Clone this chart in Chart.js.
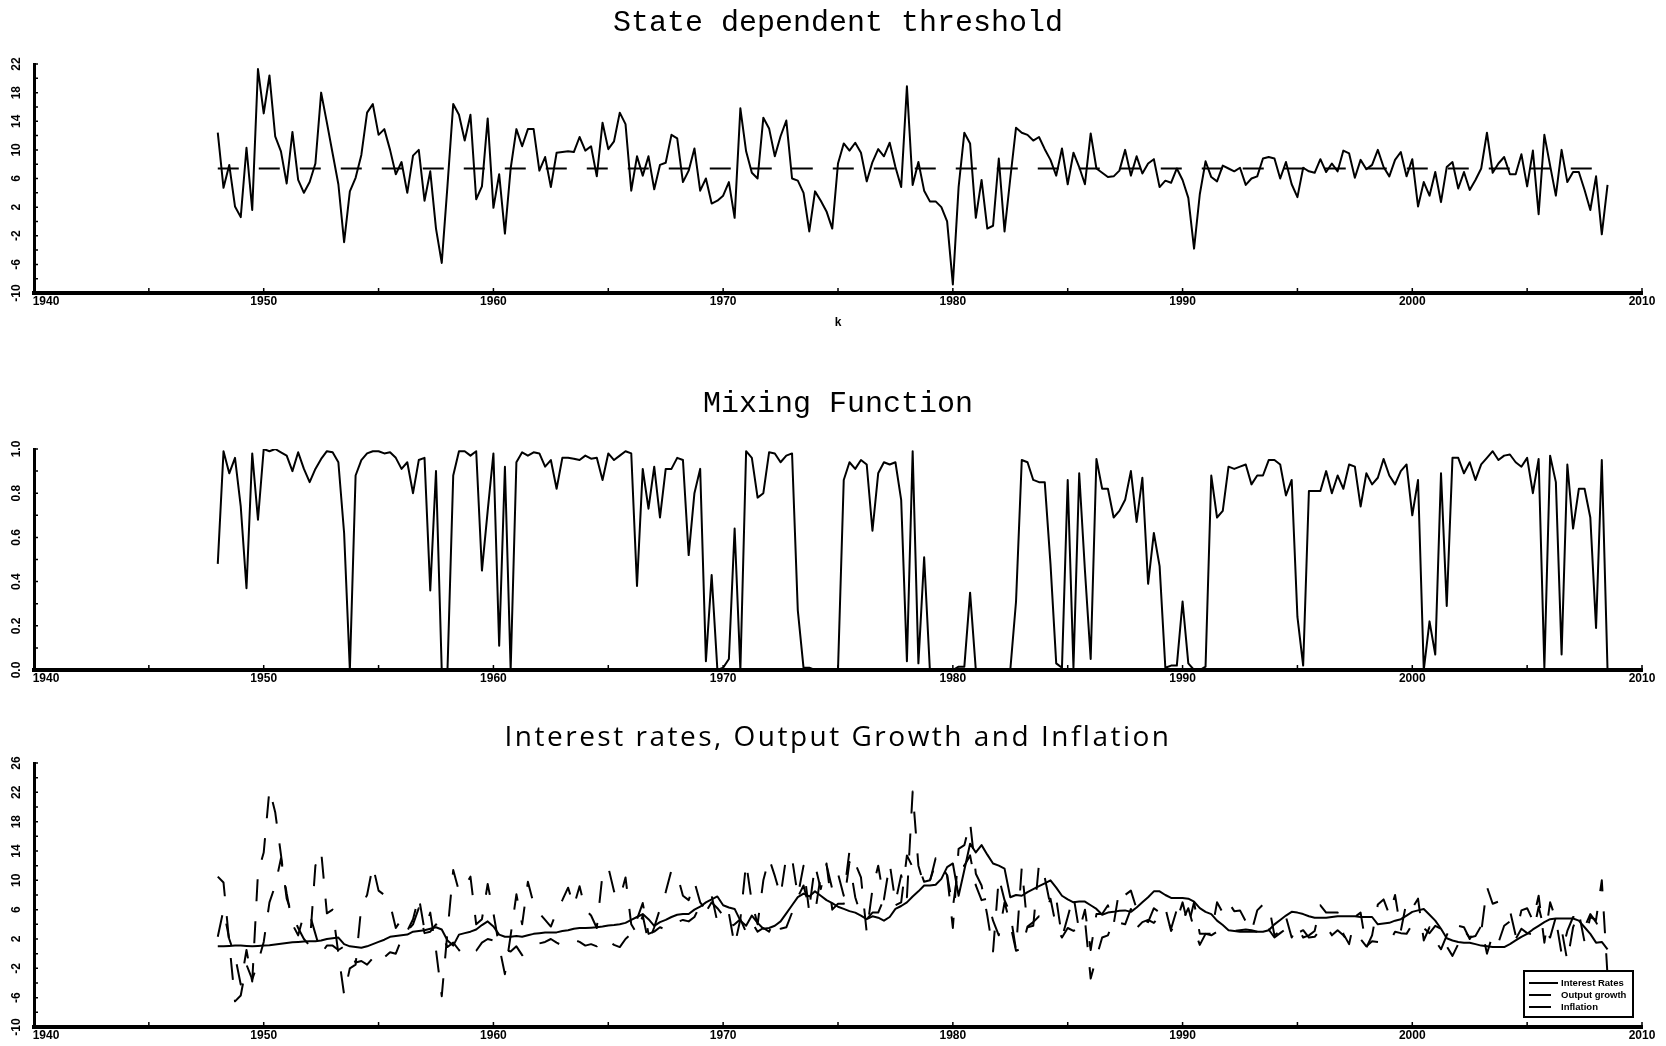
<!DOCTYPE html>
<html>
<head>
<meta charset="utf-8">
<title>State dependent threshold</title>
<style>
  body { margin: 0; background: #fff; }
  canvas { position: absolute; left: 0; }
</style>
</head>
<body>
<canvas id="thresholdChart" width="1666" height="340" style="top:0px"></canvas>
<canvas id="mixingChart" width="1666" height="350" style="top:340px"></canvas>
<canvas id="ratesChart" width="1666" height="356" style="top:690px"></canvas>
<script src="https://cdn.jsdelivr.net/npm/chart.js"></script>
<script>
// quarterly data, first quarter 1948Q1
const firstYear = 1948;
const yearTicks = [1940, 1950, 1960, 1970, 1980, 1990, 2000, 2010];
const thresholdTicks = [-10, -6, -2, 2, 6, 10, 14, 18, 22];
const mixingTicks = [0, 0.2, 0.4, 0.6, 0.8, 1.0];
const ratesTicks = [-10, -6, -2, 2, 6, 10, 14, 18, 22, 26];
const thresholdLevel = 7.4;

const threshold = [
  12.4, 4.7, 7.9, 2.1, 0.6, 10.3, 1.6, 21.3, 15.1, 20.4,
  11.9, 9.8, 5.3, 12.5, 5.8, 4.0, 5.5, 8.1, 18.0, 13.8,
  9.5, 5.2, -2.9, 4.2, 6.1, 9.3, 15.2, 16.4, 12.1, 12.9,
  10.0, 6.6, 8.3, 4.0, 9.2, 10.0, 2.9, 7.0, -1.0, -5.8,
  5.0, 16.4, 14.9, 11.3, 14.9, 3.1, 4.9, 14.4, 1.9, 6.6,
  -1.7, 7.4, 12.9, 10.5, 12.9, 12.9, 7.1, 9.0, 4.8, 9.6,
  9.7, 9.8, 9.7, 11.8, 9.9, 10.5, 6.3, 13.8, 10.1, 11.2,
  15.2, 13.6, 4.3, 9.1, 6.4, 9.1, 4.5, 7.9, 8.2, 12.1,
  11.6, 5.5, 7.1, 10.2, 4.3, 6.0, 2.5, 2.9, 3.6, 5.5,
  0.5, 15.8, 9.8, 6.8, 6.0, 14.5, 13.0, 9.1, 11.9, 14.1,
  6.0, 5.7, 4.0, -1.4, 4.2, 2.9, 1.4, -1.0, 8.1, 10.9,
  9.9, 11.0, 9.6, 5.6, 8.3, 10.1, 9.1, 11.0, 7.6, 4.8,
  18.9, 5.1, 8.3, 4.3, 2.8, 2.8, 2.0, 0.0, -8.8, 4.8,
  12.4, 10.9, 0.5, 5.8, -1.0, -0.6, 8.8, -1.4, 6.0, 13.1,
  12.4, 12.1, 11.3, 11.8, 10.1, 8.6, 6.4, 10.2, 5.2, 9.6,
  7.6, 5.2, 12.3, 7.4, 6.8, 6.2, 6.3, 7.1, 10.0, 6.4,
  9.1, 6.7, 8.1, 8.7, 4.8, 5.7, 5.4, 7.4, 5.8, 3.3,
  -3.8, 3.8, 8.4, 6.2, 5.6, 7.8, 7.4, 7.0, 7.5, 5.1,
  6.0, 6.3, 8.8, 9.0, 8.8, 6.0, 8.3, 5.2, 3.4, 7.5,
  7.0, 6.8, 8.7, 6.9, 8.1, 7.0, 9.9, 9.5, 6.1, 8.6,
  7.3, 7.9, 10.0, 7.6, 6.3, 8.6, 9.7, 6.3, 8.7, 2.1,
  5.5, 3.6, 6.9, 2.7, 7.6, 8.3, 4.6, 6.9, 4.4, 5.8,
  7.4, 12.4, 6.8, 8.1, 9.0, 6.6, 6.6, 9.4, 4.9, 9.9,
  1.0, 12.1, 7.8, 3.6, 10.0, 5.5, 6.9, 6.9, 4.4, 1.6,
  6.3, -1.8, 5.1
];

const mixing = [
  0.48, 0.99, 0.89, 0.96, 0.74, 0.37, 0.98, 0.68, 1.0, 0.99,
  1.0, 0.985, 0.97, 0.90, 0.985, 0.91, 0.85, 0.91, 0.955, 0.99,
  0.985, 0.94, 0.62, 0.0, 0.88, 0.95, 0.98, 0.99, 0.99, 0.98,
  0.985, 0.96, 0.91, 0.94, 0.80, 0.95, 0.96, 0.36, 0.90, 0.0,
  0.0, 0.88, 0.99, 0.99, 0.97, 0.99, 0.45, 0.72, 0.98, 0.11,
  0.92, 0.0, 0.94, 0.985, 0.97, 0.985, 0.98, 0.92, 0.95, 0.82,
  0.96, 0.96, 0.956, 0.95, 0.97, 0.956, 0.96, 0.86, 0.98, 0.95,
  0.97, 0.99, 0.98, 0.38, 0.91, 0.73, 0.92, 0.69, 0.91, 0.91,
  0.96, 0.95, 0.52, 0.80, 0.91, 0.04, 0.43, 0.0, 0.01, 0.05,
  0.64, 0.0, 0.99, 0.96, 0.78, 0.80, 0.985, 0.98, 0.94, 0.97,
  0.98, 0.27, 0.01, 0.01, 0.0, 0.0, 0.0, 0.0, 0.0, 0.86,
  0.94, 0.91, 0.95, 0.93, 0.63, 0.89, 0.94, 0.93, 0.94, 0.77,
  0.04, 0.99, 0.03, 0.51, 0.0, 0.0, 0.0, 0.0, 0.0, 0.015,
  0.015, 0.35, 0.0, 0.0, 0.0, 0.0, 0.0, 0.0, 0.0, 0.31,
  0.95, 0.94, 0.86, 0.85, 0.85, 0.48, 0.03, 0.01, 0.86, 0.01,
  0.89, 0.45, 0.05, 0.955, 0.82, 0.82, 0.69, 0.72, 0.77, 0.90,
  0.67, 0.87, 0.39, 0.62, 0.47, 0.01, 0.02, 0.02, 0.31, 0.03,
  0.0, 0.0, 0.015, 0.88, 0.69, 0.72, 0.92, 0.91, 0.92, 0.93,
  0.84, 0.88, 0.88, 0.95, 0.95, 0.93, 0.79, 0.86, 0.24, 0.02,
  0.81, 0.81, 0.81, 0.90, 0.80, 0.88, 0.82, 0.93, 0.92, 0.74,
  0.89, 0.84, 0.87, 0.955, 0.88, 0.84, 0.90, 0.93, 0.70, 0.86,
  0.0, 0.22, 0.07, 0.89, 0.29, 0.96, 0.96, 0.89, 0.94, 0.86,
  0.93, 0.96, 0.99, 0.95, 0.97, 0.975, 0.94, 0.92, 0.96, 0.80,
  0.955, 0.01, 0.97, 0.85, 0.07, 0.93, 0.64, 0.82, 0.82, 0.69,
  0.19, 0.95, 0.0
];

const interestRates = [
  1.0, 1.0, 1.05, 1.1, 1.1, 1.05, 1.0, 1.05, 1.1, 1.15,
  1.25, 1.35, 1.45, 1.55, 1.6, 1.65, 1.7, 1.7, 1.8, 2.0,
  2.1, 2.2, 1.3, 1.0, 0.9, 0.8, 1.0, 1.3, 1.6, 1.9,
  2.3, 2.4, 2.5, 2.6, 3.0, 3.1, 3.2, 3.4, 3.6, 3.3,
  1.8, 1.1, 2.6, 2.8, 3.0, 3.3, 3.9, 4.4, 3.7, 2.6,
  2.3, 2.3, 2.4, 2.3, 2.5, 2.7, 2.8, 2.9, 2.9, 2.9,
  3.1, 3.2, 3.4, 3.5, 3.5, 3.55, 3.6, 3.7, 3.85, 3.9,
  4.0, 4.2, 4.6, 5.0, 5.4, 4.7, 3.8, 4.3, 4.6, 5.0,
  5.3, 5.4, 5.4, 6.0, 6.4, 7.0, 7.4, 7.8, 6.6, 6.3,
  6.1, 4.5, 3.8, 5.2, 4.2, 3.4, 3.5, 3.8, 4.4, 5.5,
  6.6, 7.7, 8.2, 7.8, 8.5, 7.9, 7.3, 6.9, 6.4, 6.1,
  5.8, 5.6, 5.2, 4.7, 5.1, 4.9, 4.5, 5.0, 6.1, 6.5,
  7.0, 7.8, 8.5, 9.3, 9.3, 9.4, 10.2, 11.8, 12.3, 7.9,
  11.4, 15.0, 13.8, 14.8, 13.5, 12.3, 12.0, 11.6, 7.7, 8.0,
  7.9, 8.4, 8.8, 9.2, 9.6, 10.0, 9.0, 7.9, 7.4, 7.0,
  7.1, 7.1, 6.6, 6.1, 5.3, 5.6, 5.7, 5.85, 5.9, 5.7,
  6.3, 7.0, 7.7, 8.5, 8.5, 8.0, 7.6, 7.6, 7.6, 7.5,
  7.1, 6.2, 5.7, 5.4, 4.5, 3.9, 3.2, 3.1, 3.0, 3.0,
  3.0, 3.0, 3.0, 3.2, 4.0, 4.6, 5.2, 5.7, 5.6, 5.4,
  5.1, 4.9, 4.9, 4.9, 5.0, 5.1, 5.1, 5.1, 5.1, 5.0,
  5.0, 5.0, 4.0, 4.1, 4.2, 4.5, 4.7, 5.2, 5.7, 5.9,
  6.1, 5.3, 4.5, 3.4, 2.1, 1.8, 1.6, 1.5, 1.5, 1.3,
  1.1, 1.0, 0.9, 0.9, 0.9, 1.3, 1.8, 2.3, 2.7, 3.3,
  3.8, 4.3, 4.7, 4.8, 4.8, 4.8, 4.8, 4.5, 3.6, 2.7,
  1.5, 1.6, 0.6
];

const outputGrowth = [
  2.3, 6.0, 2.0, -0.3, -4.2, 0.5, -3.8, 11.0, 13.8, 22.4,
  19.3, 13.5, 7.5, 5.3, 3.5, 2.0, 1.1, 12.0, 14.0, 5.5,
  6.0, 0.0, -5.6, -2.0, -1.5, 6.5, 8.0, 12.0, 8.6, 8.0,
  6.8, 3.5, 4.7, 3.1, 4.7, 7.8, 3.2, 5.6, 0.5, -5.8,
  3.0, 11.4, 8.5, 9.2, 10.5, 4.0, 4.7, 9.5, 5.5, 1.0,
  -2.8, 2.5, 8.1, 4.0, 9.8, 6.8, 5.5, 4.6, 3.7, 5.7,
  7.3, 9.0, 6.5, 9.2, 6.0, 5.2, 3.5, 10.9, 11.8, 8.5,
  7.5, 10.4, 4.0, 2.7, 5.2, 1.5, 3.6, 6.1, 8.4, 11.4,
  10.8, 7.9, 7.3, 9.8, 7.0, 6.0, 7.9, 4.3, 5.2, 5.5,
  1.1, 4.7, 12.4, 7.0, 4.0, 10.0, 13.0, 10.6, 7.9, 13.3,
  13.0, 7.9, 12.0, 5.6, 5.5, 10.7, 12.1, 8.8, 10.9, 7.9,
  14.0, 12.3, 10.4, 2.9, 8.8, 12.0, 7.4, 12.3, 7.0, 10.7,
  7.7, 22.1, 12.0, 9.3, 9.8, 13.0, 12.3, 10.7, 3.5, 14.3,
  14.8, 17.9, 10.9, 9.3, 5.2, 0.3, 10.4, 7.3, 5.5, 0.5,
  11.8, 3.6, 3.8, 12.3, 10.4, 6.5, 7.5, 2.2, 5.0, 7.9,
  3.1, 6.0, 0.5, 5.4, 5.4, 6.6, 4.0, 8.8, 8.0, 8.6,
  6.1, 4.7, 4.3, 6.2, 5.6, 5.4, 3.4, 6.0, 4.5, 6.2,
  3.4, 1.2, 2.7, 2.7, 7.0, 5.6, 7.0, 5.8, 5.9, 4.4,
  3.0, 5.9, 6.7, 6.7, 2.5, 3.1, 5.0, 2.2, 3.7, 2.2,
  2.5, 3.1, 6.6, 5.6, 5.6, 5.6, 2.7, 1.3, 5.0, 5.6,
  0.8, 2.5, 6.7, 7.4, 5.3, 8.0, 3.1, 7.1, 6.2, 7.5,
  1.8, 3.6, 1.8, 0.6, 2.5, 4.3, 3.8, 3.6, 2.0, 3.4,
  2.9, 9.1, 6.8, 7.1, 5.9, 5.9, 2.5, 5.9, 6.2, 4.5,
  7.9, 1.5, 7.0, 4.7, 0.0, 3.1, 5.0, 4.8, 3.6, 5.4,
  4.3, 2.7, 3.6
];

const inflation = [
  10.5, 9.7, 1.5, -6.5, -5.7, -1.5, -3.5, -1.2, 1.6, 7.0,
  9.3, 13.0, 8.2, 4.0, 2.5, 5.4, 5.4, 2.7, 0.0, 1.1,
  1.1, 0.5, 1.0, 0.5, -1.2, -1.0, -1.5, -0.6, 0.3, -0.5,
  0.2, 0.0, 2.0, 3.1, 4.0, 6.2, 2.8, 3.0, 4.0, 2.5,
  0.9, 1.5, 0.5, -0.4, 0.0, 0.4, 1.5, 2.0, 1.8, 1.6,
  0.5, 0.3, 1.0, -0.2, 0.5, 1.0, 1.4, 1.6, 2.0, 1.5,
  1.1, 1.5, 1.9, 1.6, 1.1, 1.3, 1.0, 2.0, 1.8, 1.2,
  0.9, 2.0, 2.7, 4.7, 6.9, 2.7, 3.0, 3.6, 3.3, 4.0,
  4.3, 4.6, 4.4, 5.0, 6.6, 5.7, 7.0, 6.2, 5.2, 3.6,
  4.0, 4.7, 2.9, 4.3, 3.0, 3.5, 3.0, 4.6, 3.4, 3.6,
  5.6, 7.7, 9.3, 6.2, 12.1, 8.8, 12.3, 6.0, 6.8, 6.8,
  12.5, 7.7, 5.2, 4.7, 5.6, 5.6, 7.5, 7.3, 6.6, 7.0,
  13.4, 11.8, 12.0, 9.8, 10.0, 12.3, 12.0, 10.7, 6.3, 12.0,
  12.0, 13.4, 9.3, 7.3, 7.5, 4.5, 2.5, 7.0, 4.0, 0.4,
  0.7, 3.7, 4.3, 5.1, 5.1, 7.5, 3.6, 2.2, 3.5, 3.1,
  3.5, 4.6, -3.4, -0.5, 2.2, 2.5, 4.5, 4.2, 4.0, 6.1,
  3.5, 4.3, 4.6, 4.2, 5.2, 6.2, 3.1, 4.5, 7.0, 3.8,
  7.0, 2.7, 2.7, 2.5, 3.0, 3.0, 2.9, 3.1, 3.2, 3.3,
  3.2, 3.0, 2.0, 3.3, 2.2, 2.8, 3.4, 2.6, 2.8, 3.2,
  2.2, 2.3, 3.3, 3.8, 2.5, 3.2, 2.5, 1.5, 2.0, 2.0,
  1.0, 1.7, 1.6, 1.5, 1.5, 3.0, 2.8, 2.7, 4.0, 3.2,
  3.5, 2.8, 3.8, 3.4, 1.0, -0.3, 1.3, 3.2, 2.2, 2.4,
  3.8, 0.0, 2.6, 1.5, 3.8, 4.4, 2.0, 3.4, 2.8, 2.6,
  6.4, 3.2, 2.2, 5.0, 3.3, -1.0, 3.6, 5.6, 1.6, 5.0,
  4.6, 10.0, -3.0
];

const toPoints = arr => arr.map((v, i) => ({ x: firstYear + i / 4, y: v }));
const lastYear = firstYear + (threshold.length - 1) / 4;

const tickFont = { family: 'Liberation Sans', size: 12, weight: 'bold' };

// title centred over the plot area (not over the whole canvas)
const panelTitle = {
  id: 'panelTitle',
  afterDraw(chart, args, opts) {
    const { ctx, chartArea: a } = chart;
    ctx.save();
    ctx.font = opts.font;
    ctx.fillStyle = '#000';
    ctx.textAlign = 'center';
    ctx.textBaseline = 'middle';
    if (opts.width) {
      const w = ctx.measureText(opts.text).width;
      ctx.letterSpacing = ((opts.width - w) / opts.text.length) + 'px';
    }
    ctx.fillText(opts.text, (a.left + a.right) / 2, opts.y);
    ctx.restore();
  }
};

// small tick marks drawn inside the axes
const innerTicks = {
  id: 'innerTicks',
  afterDraw(chart, args, opts) {
    const { ctx, chartArea: a, scales: { x, y } } = chart;
    ctx.save();
    ctx.strokeStyle = '#000';
    ctx.lineWidth = 1.5;
    ctx.beginPath();
    for (let v = x.min; v <= x.max; v += 5) {
      const px = x.getPixelForValue(v);
      ctx.moveTo(px, a.bottom);
      ctx.lineTo(px, a.bottom - 5);
    }
    const n = Math.round((y.max - y.min) / opts.yStep);
    for (let k = 0; k <= n; k++) {
      const py = y.getPixelForValue(y.min + k * opts.yStep);
      ctx.moveTo(a.left, py);
      ctx.lineTo(a.left + 4, py);
    }
    ctx.stroke();
    ctx.restore();
  }
};

// boxed legend in the lower right corner of the last panel
const boxLegend = {
  id: 'boxLegend',
  afterDraw(chart, args, opts) {
    if (!opts.show) return;
    const { ctx, chartArea: a } = chart;
    const w = 109, h = 46;
    const left = a.right - 9 - w, top = a.bottom - 10 - h;
    ctx.save();
    ctx.fillStyle = '#fff';
    ctx.fillRect(left, top, w, h);
    ctx.strokeStyle = '#000';
    ctx.lineWidth = 2;
    ctx.strokeRect(left, top, w, h);
    ctx.font = 'bold 9.5px "Liberation Sans"';
    ctx.textBaseline = 'middle';
    ctx.fillStyle = '#000';
    chart.data.datasets.forEach((ds, k) => {
      const yy = top + 12 + k * 12;
      ctx.setLineDash(ds.borderDash || []);
      ctx.beginPath();
      ctx.moveTo(left + 5, yy);
      ctx.lineTo(left + (k === 0 ? 34 : 27), yy);
      ctx.stroke();
      ctx.setLineDash([]);
      ctx.fillText(ds.label, left + 37, yy);
    });
    ctx.restore();
  }
};

function lineSet(label, data, dash) {
  return {
    label: label,
    data: data,
    borderColor: '#000',
    borderWidth: 2,
    borderDash: dash,
    borderJoinStyle: 'round',
    pointRadius: 0,
    tension: 0,
    fill: false
  };
}

function makeOptions(cfg) {
  return {
    responsive: false,
    animation: false,
    devicePixelRatio: 1,
    layout: { padding: { left: 0, right: 24, top: cfg.top, bottom: 0 } },
    plugins: {
      legend: { display: false },
      tooltip: { enabled: false },
      title: { display: false },
      panelTitle: cfg.title,
      innerTicks: { yStep: cfg.yStep },
      boxLegend: { show: !!cfg.legend }
    },
    scales: {
      x: {
        type: 'linear',
        min: 1940,
        max: 2010,
        grid: { display: false, drawTicks: false },
        border: { display: true, color: '#000', width: 4 },
        afterBuildTicks: s => { s.ticks = yearTicks.map(v => ({ value: v })); },
        afterFit: s => { s.height = cfg.xHeight; },
        ticks: {
          color: '#000',
          font: tickFont,
          padding: 1,
          maxRotation: 0,
          autoSkip: false,
          callback: v => v === 1940 ? '\u2002\u2002\u2002\u20021940' : String(v)
        },
        title: cfg.xTitle || { display: false }
      },
      y: {
        type: 'linear',
        min: cfg.yTicks[0],
        max: cfg.yTicks[cfg.yTicks.length - 1],
        grid: { display: false, drawTicks: false },
        border: { display: true, color: '#000', width: 3 },
        afterBuildTicks: s => { s.ticks = cfg.yTicks.map(v => ({ value: v })); },
        afterFit: s => { s.width = 34; },
        ticks: {
          color: '#000',
          font: tickFont,
          padding: 9,
          minRotation: 90,
          maxRotation: 90,
          crossAlign: 'center',
          autoSkip: false,
          callback: cfg.yFormat
        }
      }
    }
  };
}

new Chart(document.getElementById('thresholdChart'), {
  type: 'line',
  data: {
    datasets: [
      lineSet('Threshold', toPoints(threshold), []),
      lineSet('Level', [{ x: firstYear, y: thresholdLevel }, { x: lastYear, y: thresholdLevel }], [21, 20])
    ]
  },
  options: makeOptions({
    top: 64,
    title: { text: 'State dependent threshold', font: '30px "Liberation Mono"', y: 23 },
    xHeight: 47,
    xTitle: { display: true, text: 'k', color: '#000', font: tickFont, padding: { top: 0, bottom: 10 } },
    yTicks: thresholdTicks,
    yStep: 2,
    yFormat: v => String(v)
  }),
  plugins: [panelTitle, innerTicks, boxLegend]
});

new Chart(document.getElementById('mixingChart'), {
  type: 'line',
  data: { datasets: [lineSet('Mixing', toPoints(mixing), [])] },
  options: makeOptions({
    top: 109,
    title: { text: 'Mixing Function', font: '30px "Liberation Mono"', y: 64 },
    xHeight: 20,
    yTicks: mixingTicks,
    yStep: 0.1,
    yFormat: v => v.toFixed(1)
  }),
  plugins: [panelTitle, innerTicks, boxLegend]
});

new Chart(document.getElementById('ratesChart'), {
  type: 'line',
  data: {
    datasets: [
      lineSet('Interest Rates', toPoints(interestRates), []),
      lineSet('Output growth', toPoints(outputGrowth), [22, 20]),
      lineSet('Inflation', toPoints(inflation), [22, 20])
    ]
  },
  options: makeOptions({
    top: 73,
    title: { text: 'Interest rates, Output Growth and Inflation', font: '400 28px "Open Sans"', y: 48, width: 667 },
    xHeight: 19,
    yTicks: ratesTicks,
    yStep: 2,
    yFormat: v => String(v),
    legend: true
  }),
  plugins: [panelTitle, innerTicks, boxLegend]
});
</script>
</body>
</html>
